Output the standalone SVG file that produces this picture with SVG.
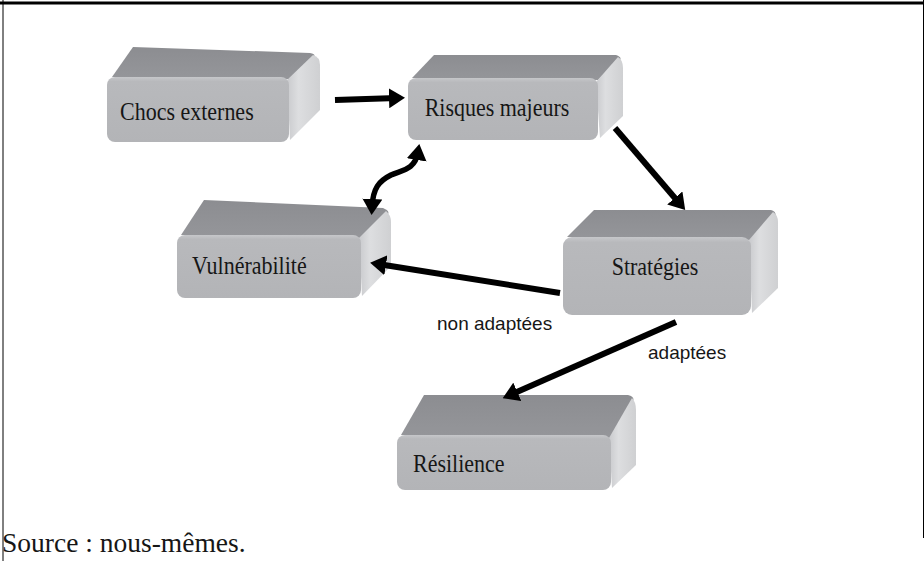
<svg xmlns="http://www.w3.org/2000/svg" width="924" height="561" viewBox="0 0 924 561">
<defs>
<linearGradient id="gTop" x1="0" y1="0" x2="0" y2="1">
<stop offset="0" stop-color="#8c8d91"/>
<stop offset="1" stop-color="#95969a"/>
</linearGradient>
<linearGradient id="gFront" x1="0" y1="0" x2="0" y2="1">
<stop offset="0" stop-color="#c6c7ca"/>
<stop offset="0.07" stop-color="#b8b9bc"/>
<stop offset="1" stop-color="#b3b4b7"/>
</linearGradient>
<linearGradient id="gSide" x1="0" y1="0" x2="1" y2="0">
<stop offset="0" stop-color="#c9cacd"/>
<stop offset="0.35" stop-color="#dddee0"/>
<stop offset="1" stop-color="#cfd0d2"/>
</linearGradient>
<marker id="ah" viewBox="0 0 16 20" refX="8" refY="10" markerWidth="16" markerHeight="20" markerUnits="userSpaceOnUse" orient="auto-start-reverse">
<path d="M0,0 L16,10 L0,20 Z" fill="#000"/>
</marker>
<style>
.top{fill:url(#gTop)}
.front{fill:url(#gFront)}
.side{fill:url(#gSide)}
.lbl{font-family:"Liberation Serif","Times New Roman",serif;font-size:22px;fill:#161616}
.elbl{font-family:"Liberation Sans",Arial,sans-serif;font-size:19px;fill:#161616}
.arr{fill:none;stroke:#000;stroke-width:6;marker-end:url(#ah)}
</style>
</defs>
<rect width="924" height="561" fill="#fff"/>
<g id="frame" stroke="#000" fill="none">
<line x1="0" y1="3" x2="924" y2="3" stroke-width="3"/>
<line x1="3" y1="0" x2="3" y2="561" stroke-width="1"/>
<line x1="923.5" y1="0" x2="923.5" y2="538" stroke-width="1"/>
</g>
<g id="n-chocs">
<path class="top" d="M112,77 L133,47 L310,53 Q316,54 314,57 L289,79 Z"/>
<path class="side" d="M287,80 L313,55 Q320,57 320,65 L320,110 L290,140 Z"/>
<rect class="front" x="107" y="77" width="182" height="65" rx="8"/>
<text class="lbl" transform="translate(120,120) scale(1,1.15)">Chocs externes</text>
</g>
<g id="n-risques">
<path class="top" d="M412,78 L434,55 L616,55 Q622,57 620,60 L598,80 Z"/>
<path class="side" d="M596,82 L618,57 Q623,60 623,68 L623,116 L600,138 Z"/>
<rect class="front" x="408" y="78" width="190" height="62" rx="8"/>
<text class="lbl" text-anchor="middle" transform="translate(497,116) scale(1,1.15)">Risques majeurs</text>
</g>
<g id="n-vuln">
<path class="top" d="M181,235 L204,200 L383,208 Q390,211 388,214 L362,238 Z"/>
<path class="side" d="M359,238 L386,211 Q391,215 391,222 L391,266 L362,296 Z"/>
<rect class="front" x="177" y="235" width="184" height="63" rx="8"/>
<text class="lbl" transform="translate(192,274) scale(1,1.15)">Vulnérabilité</text>
</g>
<g id="n-strat">
<path class="top" d="M567,237 L594,210 L771,210 Q777,212 775,216 L752,240 Z"/>
<path class="side" d="M749,240 L773,212 Q778,215 778,222 L778,288 L752,313 Z"/>
<rect class="front" x="563" y="237" width="188" height="78" rx="9"/>
<text class="lbl" text-anchor="middle" transform="translate(655,275) scale(1,1.15)">Stratégies</text>
</g>
<g id="n-resil">
<path class="top" d="M401,435 L424,395 L628,395 Q635,397 633,401 L612,438 Z"/>
<path class="side" d="M609,438 L632,398 Q636,402 636,410 L636,465 L612,488 Z"/>
<rect class="front" x="397" y="435" width="214" height="55" rx="8"/>
<text class="lbl" transform="translate(413,472) scale(1,1.15)">Résilience</text>
</g>
<g id="connectors">
<path class="arr" d="M335,100 L397,98"/>
<path class="arr" d="M615,128 L680,204"/>
<path class="arr" d="M560,293 L378,264"/>
<path class="arr" d="M676,322 L510,395"/>
<path d="M418,152 C415,170 402,170 391,175 C379,181 373,188 372,207" fill="none" stroke="#000" stroke-width="5.5" marker-start="url(#ah)" marker-end="url(#ah)"/>
</g>
<g id="labels">
<text class="elbl" x="437" y="330">non adaptées</text>
<text class="elbl" x="648" y="359">adaptées</text>
<text x="2" y="552" font-family="Liberation Serif,'Times New Roman',serif" font-size="27.5" fill="#161616">Source : nous-mêmes.</text>
</g>
</svg>
